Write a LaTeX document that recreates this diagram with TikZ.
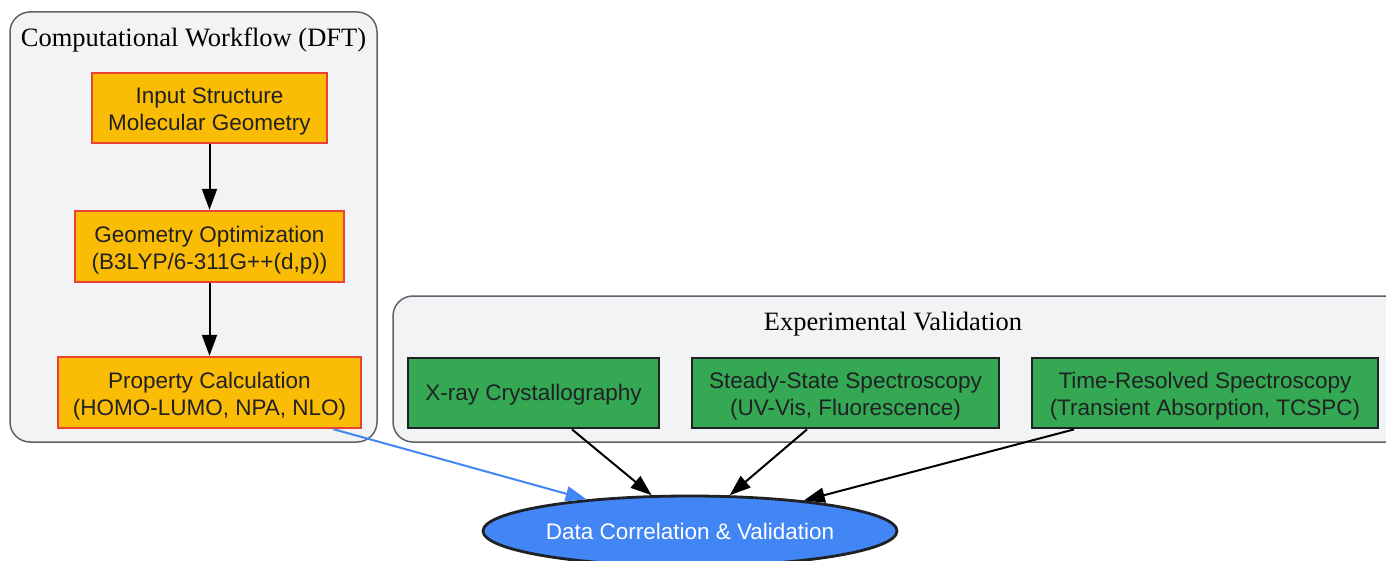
\documentclass[tikz,border=0pt]{standalone}
\usepackage{fontspec}
\setmainfont{Liberation Serif}
\newfontfamily\nodefont{Liberation Sans}
\usetikzlibrary{arrows.meta,shapes.geometric,calc}
\definecolor{clfill}{HTML}{F1F3F4}
\definecolor{clline}{HTML}{5F6368}
\definecolor{gorange}{HTML}{FBBC05}
\definecolor{gred}{HTML}{EA4335}
\definecolor{ggreen}{HTML}{34A853}
\definecolor{gblue}{HTML}{4285F4}
\definecolor{gdark}{HTML}{202124}
\tikzset{
  cluster/.style={draw=clline, fill=clfill, line width=1.5pt, rounded corners=20pt},
  cltitle/.style={font=\fontsize{26.5}{30}\selectfont, text=black, inner sep=0pt},
  dftbox/.style={draw=gred, fill=gorange, line width=2.4pt, inner sep=0pt},
  expbox/.style={draw=gdark, fill=ggreen, line width=2.8pt, inner sep=0pt},
  boxtext/.style={inner sep=0pt, align=center, text=gdark, font=\nodefont\fontsize{22.5}{27}\selectfont},
  resultell/.style={ellipse, draw=gdark, fill=gblue, line width=2.8pt, inner sep=0pt,
    text=white, font=\nodefont\fontsize{22.5}{27}\selectfont},
  flow/.style={draw=black, line width=2pt, -{Triangle[length=21pt,width=15pt]}},
  blueflow/.style={draw=gblue, line width=2pt, -{Triangle[length=21pt,width=15pt]}}
}
\begin{document}
\begin{tikzpicture}[x=1pt,y=-1pt]
\useasboundingbox (0,0) rectangle (1386,561);
\clip (0,0) rectangle (1386,561);
% clusters
\draw[cluster] (10,12) rectangle (377,442);
\node[cltitle] (t1) at (193.5,40) {Computational Workflow (DFT)};
\draw[cluster] (393,296) rectangle (1420,442);
\node[cltitle] (t2) at (893,324) {Experimental Validation};
% DFT nodes
\node[dftbox, minimum width=235pt, minimum height=70pt] (A) at (209.5,108) {};
\node[boxtext, yshift=-3.5pt] (At) at (A) {Input Structure\\Molecular Geometry};
\node[dftbox, minimum width=269pt, minimum height=71pt] (B) at (209.5,246.5) {};
\node[boxtext, yshift=-3.5pt] (Bt) at (B) {Geometry Optimization\\(B3LYP/6-311G++(d,p))};
\node[dftbox, minimum width=303pt, minimum height=71pt] (C) at (209.5,392.5) {};
\node[boxtext, yshift=-3.5pt] (Ct) at (C) {Property Calculation\\(HOMO-LUMO, NPA, NLO)};
% experimental nodes
\node[expbox, minimum width=251pt, minimum height=70pt] (D) at (533.5,393) {};
\node[boxtext, yshift=-2pt] (Dt) at (D) {X-ray Crystallography};
\node[expbox, minimum width=307pt, minimum height=70pt] (E) at (845.5,393) {};
\node[boxtext, yshift=-3.5pt] (Et) at (E) {Steady-State Spectroscopy\\(UV-Vis, Fluorescence)};
\node[expbox, minimum width=346pt, minimum height=70pt] (F) at (1205,393) {};
\node[boxtext, yshift=-3.5pt] (Ft) at (F) {Time-Resolved Spectroscopy\\(Transient Absorption, TCSPC)};
% result
\node[resultell, minimum width=414pt, minimum height=70pt] (G) at (690,531) {Data Correlation \& Validation};
% edges
\draw[flow] (A) -- (B);
\draw[flow] (B) -- (C);
\draw[blueflow] ([xshift=124pt]C.south) -- (G.163.4);
\draw[flow] ([xshift=38.5pt]D.south) -- (G.137.3);
\draw[flow] ([xshift=-38.5pt]E.south) -- (G.42);
\draw[flow] ([xshift=-131pt]F.south) -- (G.15.7);
\end{tikzpicture}
\end{document}
